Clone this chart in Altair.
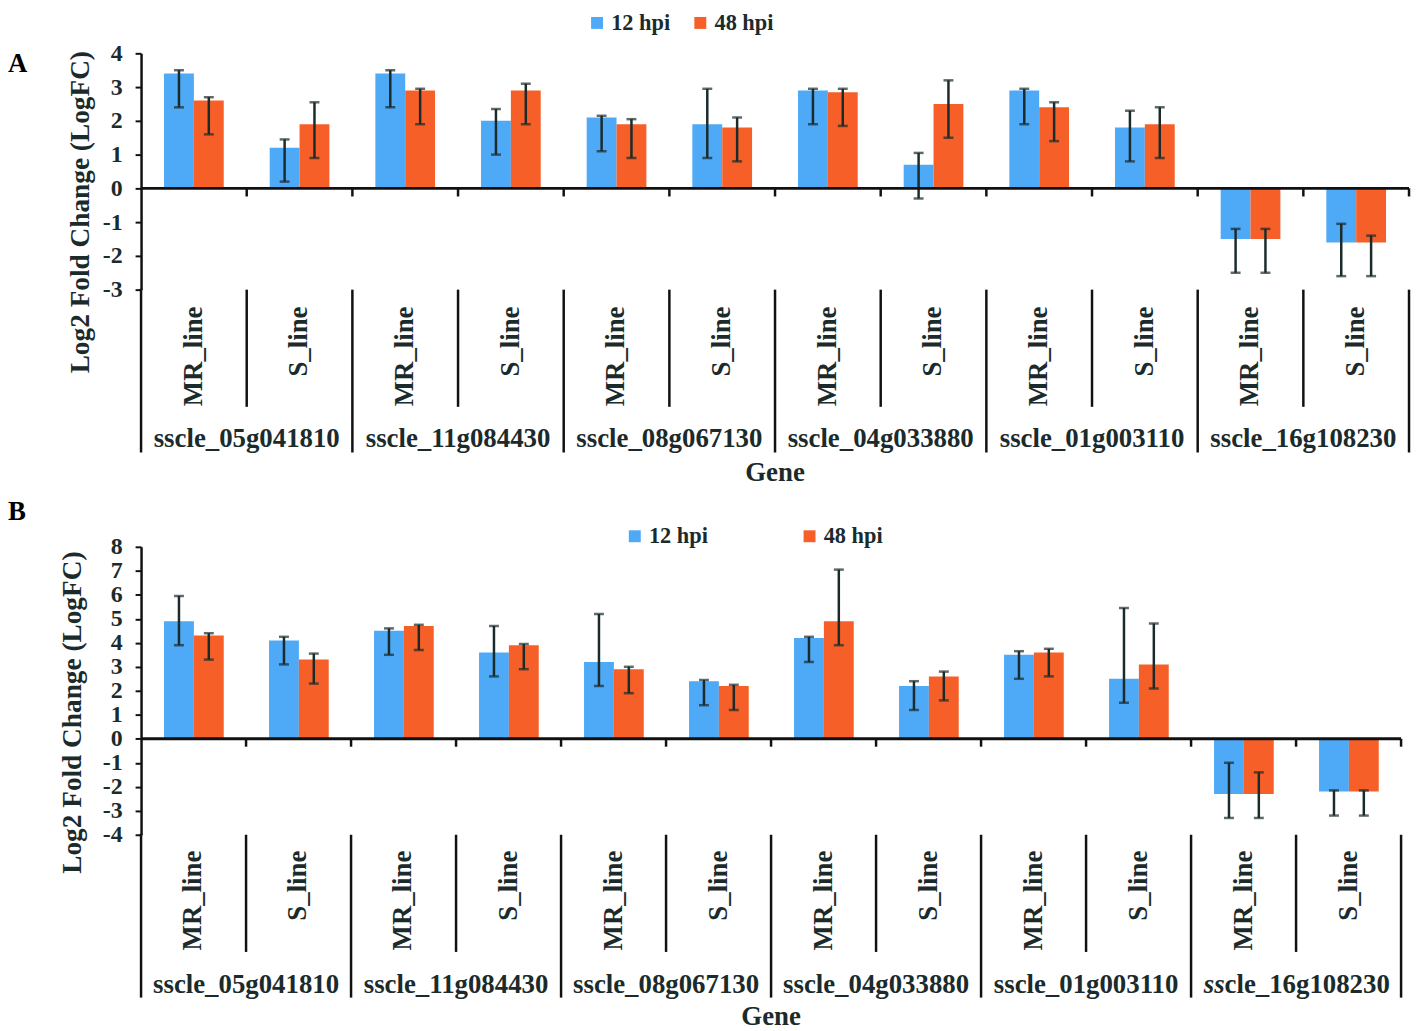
import altair as alt
import pandas as pd

genes = ["sscle_05g041810", "sscle_11g084430", "sscle_08g067130",
         "sscle_04g033880", "sscle_01g003110", "sscle_16g108230"]
lines = ["MR_line", "S_line"]
series = ["12 hpi", "48 hpi"]

# Panel A (order: gene x line)
a_12 = [3.4, 1.2, 3.4, 2.0, 2.1, 1.9, 2.9, 0.7, 2.9, 1.8, -1.5, -1.6]
a_12_lo = [2.4, 0.2, 2.4, 1.0, 1.1, 0.9, 1.9, -0.3, 1.9, 0.8, -2.5, -2.6]
a_12_hi = [3.5, 1.45, 3.5, 2.35, 2.15, 2.95, 2.95, 1.05, 2.95, 2.3, -1.2, -1.05]
a_48 = [2.6, 1.9, 2.9, 2.9, 1.9, 1.8, 2.85, 2.5, 2.4, 1.9, -1.5, -1.6]
a_48_lo = [1.6, 0.9, 1.9, 1.9, 0.9, 0.8, 1.85, 1.5, 1.4, 0.9, -2.5, -2.6]
a_48_hi = [2.7, 2.55, 2.95, 3.1, 2.05, 2.1, 2.95, 3.2, 2.55, 2.4, -1.2, -1.4]

# Panel B
b_12 = [4.9, 4.1, 4.5, 3.6, 3.2, 2.4, 4.2, 2.2, 3.5, 2.5, -2.3, -2.2]
b_12_lo = [3.9, 3.1, 3.5, 2.6, 2.2, 1.4, 3.2, 1.2, 2.5, 1.5, -3.3, -3.2]
b_12_hi = [5.95, 4.25, 4.6, 4.7, 5.2, 2.45, 4.25, 2.4, 3.65, 5.45, -1.0, -2.15]
b_48 = [4.3, 3.3, 4.7, 3.9, 2.9, 2.2, 4.9, 2.6, 3.6, 3.1, -2.3, -2.2]
b_48_lo = [3.3, 2.3, 3.7, 2.9, 1.9, 1.2, 3.9, 1.6, 2.6, 2.1, -3.3, -3.2]
b_48_hi = [4.4, 3.55, 4.75, 3.95, 3.0, 2.25, 7.05, 2.8, 3.75, 4.8, -1.4, -2.15]

ticks_a = [-3, -2, -1, 0, 1, 2, 3, 4]
ticks_b = [-4, -3, -2, -1, 0, 1, 2, 3, 4, 5, 6, 7, 8]

BLUE = "#4ea9f6"
ORANGE = "#f65f27"
INK = "#1b2b2b"
LINE = "#111111"
FONT = "Liberation Serif"

cat_order = [f"{g}|{ln}" for g in genes for ln in lines]
cats_df = pd.DataFrame({
    "cat": cat_order,
    "gene": [g for g in genes for _ in lines],
    "line": [ln for _ in genes for ln in lines],
})


def make_df(v12, lo12, hi12, v48, lo48, hi48):
    rows = []
    for k, cat in enumerate(cat_order):
        g, ln = cat.split("|")
        rows.append(dict(cat=cat, gene=g, line=ln, series="12 hpi",
                         value=v12[k], lo=lo12[k], hi=hi12[k]))
        rows.append(dict(cat=cat, gene=g, line=ln, series="48 hpi",
                         value=v48[k], lo=lo48[k], hi=hi48[k]))
    return pd.DataFrame(rows)


def panel(df, letter, domain, ticks, W, H, g, italic_gene=None):
    xscale = alt.Scale(domain=cat_order, paddingInner=0, paddingOuter=0)
    yscale = alt.Scale(domain=domain, nice=False, zero=False)
    yaxis = alt.Axis(values=ticks, grid=False, title=None, domainColor=LINE,
                     domainWidth=2.5, tickColor=LINE, tickWidth=2, tickSize=6,
                     labelFont=FONT, labelFontSize=24, labelFontWeight="bold",
                     labelColor=INK, labelPadding=13, labelFlush=False,
                     labelOverlap=False, labelExpr="'' + datum.value")

    def X(**kw):
        return alt.X("cat:N", scale=xscale, axis=None, title=None, **kw)

    def Y(f):
        return alt.Y(f, scale=yscale, axis=yaxis)

    xoff = alt.XOffset("series:N", scale=alt.Scale(domain=series, paddingInner=0,
                                                    paddingOuter=0.77))
    base = alt.Chart(df)
    bars = base.mark_bar().encode(
        x=X(), xOffset=xoff, y=Y("value:Q"),
        color=alt.Color("series:N", scale=alt.Scale(domain=series, range=[BLUE, ORANGE]),
                        legend=alt.Legend(orient="none", legendX=g["lx"], legendY=g["ly"],
                                          direction="horizontal", title=None,
                                          symbolType="square", symbolSize=144,
                                          symbolStrokeWidth=0, labelFont=FONT,
                                          labelFontSize=22.5, labelFontWeight="bold",
                                          labelColor=INK, labelOffset=3,
                                          columnPadding=g["cp"], labelLimit=200)))
    err = base.mark_rule(color=INK, strokeWidth=2.5).encode(
        x=X(), xOffset=xoff, y=Y("lo:Q"), y2="hi:Q")
    cap_lo = base.mark_tick(color=INK, thickness=2.5, size=10).encode(
        x=X(), xOffset=xoff, y=Y("lo:Q"))
    cap_hi = base.mark_tick(color=INK, thickness=2.5, size=10).encode(
        x=X(), xOffset=xoff, y=Y("hi:Q"))

    zero = alt.Chart(pd.DataFrame({"v": [0]})).mark_rule(color=LINE, strokeWidth=3).encode(
        y=Y("v:Q"))
    cb = alt.Chart(cats_df)
    bticks = cb.mark_rule(color=LINE, strokeWidth=2.5).encode(
        x=X(bandPosition=1), y=alt.YDatum(0, scale=yscale, axis=yaxis),
        y2=alt.Y2Datum(-g["tl"]))
    inner = cb.transform_filter(alt.datum.line == "MR_line").mark_rule(
        color=LINE, strokeWidth=2.5).encode(
        x=X(bandPosition=1), y=alt.value(H), y2=alt.value(H + g["inner"]))
    outer = cb.transform_filter(alt.datum.line == "S_line").mark_rule(
        color=LINE, strokeWidth=2.5).encode(
        x=X(bandPosition=1), y=alt.value(H), y2=alt.value(H + g["outer"]))
    left = alt.Chart(pd.DataFrame({"v": [0]})).mark_rule(color=LINE, strokeWidth=2.5).encode(
        x=alt.value(0), y=alt.value(H - 1), y2=alt.value(H + g["outer"]))
    line_lbl = cb.mark_text(angle=270, align="right", baseline="middle", font=FONT,
                            fontSize=27, fontWeight="bold", color=INK).encode(
        x=X(bandPosition=0.5), y=alt.value(g["ltop"]), text="line:N")
    gtxt = dict(baseline="middle", font=FONT, fontSize=27, fontWeight="bold", color=INK)
    mr = cb.transform_filter(alt.datum.line == "MR_line")
    if italic_gene:
        mr_plain = mr.transform_filter(alt.datum.gene != italic_gene)
    else:
        mr_plain = mr
    gene_layers = [mr_plain.mark_text(align="center", **gtxt).encode(
        x=X(bandPosition=1), y=alt.value(g["gy"]), text="gene:N")]
    if italic_gene:
        sel = mr.transform_filter(alt.datum.gene == italic_gene)
        gene_layers.append(sel.transform_calculate(t="substring(datum.gene, 0, 2)").mark_text(
            align="left", dx=-93, fontStyle="italic", **gtxt).encode(
            x=X(bandPosition=1), y=alt.value(g["gy"]), text="t:N"))
        gene_layers.append(sel.transform_calculate(t="substring(datum.gene, 2)").mark_text(
            align="left", dx=-72, **gtxt).encode(
            x=X(bandPosition=1), y=alt.value(g["gy"]), text="t:N"))

    def label(txt, x, y, size, angle=0, align="center", color=INK):
        return alt.Chart(pd.DataFrame({"t": [txt]})).mark_text(
            angle=angle, align=align, baseline="middle", font=FONT, fontSize=size,
            fontWeight="bold", color=color).encode(
            x=alt.value(x), y=alt.value(y), text="t:N")

    ytitle = label("Log2 Fold Change (LogFC)", g["tx"], g["ty"], 27.5, angle=270)
    xtitle = label("Gene", W / 2, g["gt"], 27)
    let = label(letter, g["lex"], g["ley"], 27, align="left", color="#000000")

    return alt.layer(bars, err, cap_lo, cap_hi, zero, bticks, inner, outer, left,
                     line_lbl, *gene_layers, ytitle, xtitle, let).properties(width=W, height=H)


df_a = make_df(a_12, a_12_lo, a_12_hi, a_48, a_48_lo, a_48_hi)
df_b = make_df(b_12, b_12_lo, b_12_hi, b_48, b_48_lo, b_48_hi)

pa = panel(df_a, "A", [-3, 4], ticks_a, 1277, 238,
           dict(lx=448, ly=-42, cp=19, tl=0.24, inner=118, outer=164, ltop=255,
                gy=388, tx=-60, ty=160, gt=423, lex=-134, ley=11))
pb = panel(df_b, "B", [-4, 8], ticks_b, 1269, 290,
           dict(lx=486, ly=-22, cp=91, tl=0.33, inner=118, outer=164, ltop=306,
                gy=441, tx=-68, ty=167, gt=474, lex=-134, ley=-35),
           italic_gene="sscle_16g108230")

chart = alt.vconcat(pa, pb, spacing=12).resolve_scale(color="independent").resolve_legend(
    color="independent").properties(padding=0).configure_view(strokeWidth=0).configure_axisY(
    labelOverlap=False)

chart.save("out.html", embed_options={"renderer": "svg", "actions": False})
